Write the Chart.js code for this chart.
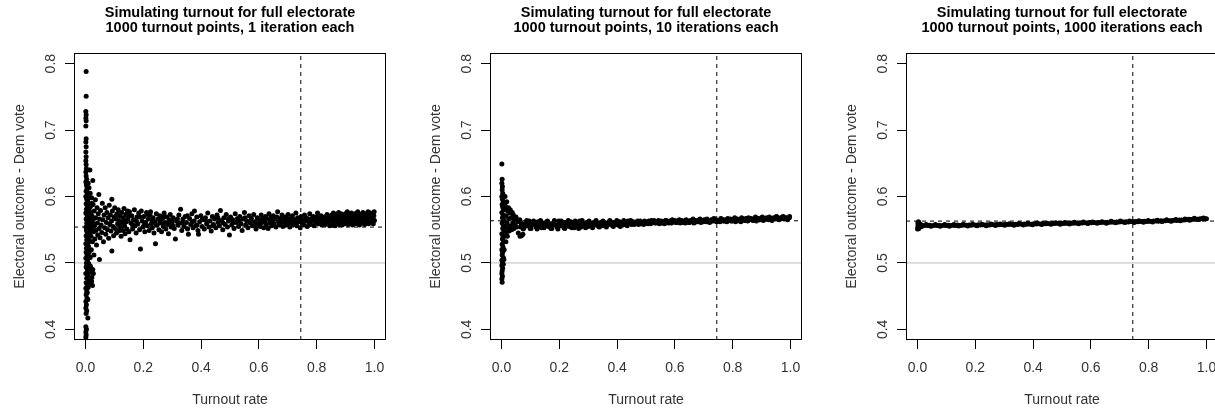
<!DOCTYPE html>
<html><head><meta charset="utf-8">
<script src="https://cdn.jsdelivr.net/npm/chart.js@4.4.1/dist/chart.umd.min.js"></script>
<style>
html,body{margin:0;padding:0;background:#fff;overflow:hidden;width:1215px;height:411px;}
.panel{position:absolute;top:0;width:416px;height:411px;}
canvas{display:block;}
</style></head><body>
<div class="panel" style="left:0"><canvas id="c1" width="416" height="411"></canvas></div>
<div class="panel" style="left:416px"><canvas id="c2" width="416" height="411"></canvas></div>
<div class="panel" style="left:832px"><canvas id="c3" width="416" height="411"></canvas></div>
<script>
const titleLine1 = "Simulating turnout for full electorate";
const subtitles = ["1000 turnout points, 1 iteration each", "1000 turnout points, 10 iterations each", "1000 turnout points, 1000 iterations each"];
const xLabel = "Turnout rate";
const yLabel = "Electoral outcome - Dem vote";
const xTicks = [0, 0.2, 0.4, 0.6, 0.8, 1.0];
const yTicks = [0.4, 0.5, 0.6, 0.7, 0.8];
const xLimits = [0, 1];
const yLimits = [0.4, 0.8];
const evenLine = 0.5;
const meanLines = [0.554, 0.5635, 0.563];
const turnoutLine = 0.745;

const panel1Points = [
[0.002,0.788],[0.002,0.751],[0.001,0.728],[0.002,0.723],[0.001,0.718],[0.002,0.714],[0.001,0.706],[0.002,0.687],[0.001,0.682],[0.002,0.675],[0.001,0.667],[0.002,0.660],[0.001,0.654],[0.002,0.648],[0.003,0.642],[0.001,0.637],[0.002,0.631],[0.004,0.626],[0.001,0.622],[0.003,0.617],[0.005,0.612],[0.002,0.608],[0.006,0.603],[0.001,0.600],[0.004,0.596],[0.008,0.592],[0.002,0.589],[0.006,0.585],[0.003,0.581],[0.010,0.578],[0.001,0.575],[0.005,0.572],[0.008,0.569],[0.002,0.566],[0.012,0.563],[0.004,0.560],[0.007,0.557],[0.001,0.554],[0.010,0.552],[0.003,0.549],[0.006,0.546],[0.013,0.544],[0.002,0.541],[0.008,0.538],[0.004,0.535],[0.011,0.532],[0.001,0.529],[0.006,0.526],[0.003,0.522],[0.009,0.519],[0.002,0.516],[0.005,0.512],[0.012,0.510],[0.001,0.507],[0.007,0.503],[0.003,0.500],[0.010,0.497],[0.002,0.494],[0.006,0.490],[0.015,0.487],[0.001,0.484],[0.008,0.481],[0.004,0.477],[0.012,0.474],[0.002,0.470],[0.006,0.466],[0.001,0.462],[0.004,0.457],[0.002,0.452],[0.005,0.447],[0.001,0.442],[0.003,0.437],[0.001,0.432],[0.004,0.428],[0.002,0.424],[0.008,0.417],[0.001,0.404],[0.003,0.400],[0.001,0.396],[0.002,0.392],[0.001,0.388],
[0.009,0.620],[0.012,0.613],[0.007,0.606],[0.014,0.598],[0.010,0.590],[0.013,0.582],[0.016,0.574],[0.011,0.566],[0.014,0.558],[0.017,0.550],[0.012,0.541],[0.015,0.533],[0.010,0.525],[0.013,0.517],[0.016,0.508],[0.011,0.499],[0.014,0.491],[0.009,0.483],[0.018,0.576],[0.019,0.556],[0.020,0.548],[0.022,0.590],[0.024,0.561],[0.013,0.470],[0.009,0.463],[0.017,0.495],[0.020,0.491],[0.006,0.455],[0.008,0.445],[0.025,0.490],[0.022,0.478],[0.027,0.484],[0.021,0.472],[0.024,0.466],
[0.015,0.640],[0.016,0.605],[0.017,0.585],[0.018,0.562],[0.019,0.540],[0.020,0.520],[0.021,0.598],[0.022,0.571],[0.023,0.553],[0.024,0.532],[0.025,0.624],[0.026,0.588],[0.027,0.566],[0.028,0.547],[0.029,0.512],[0.030,0.578],[0.031,0.556],[0.032,0.536],[0.034,0.595],[0.035,0.568],[0.036,0.549],[0.038,0.527],[0.040,0.583],[0.041,0.560],[0.042,0.542],[0.044,0.574],[0.046,0.603],[0.047,0.552],[0.048,0.505],[0.049,0.566],[0.050,0.538],
[0.052,0.579],[0.054,0.557],[0.056,0.546],[0.058,0.590],[0.060,0.565],[0.062,0.532],[0.064,0.572],[0.066,0.553],[0.068,0.583],[0.070,0.543],[0.072,0.561],[0.074,0.576],[0.076,0.550],[0.078,0.568],[0.080,0.537],[0.082,0.587],[0.084,0.558],[0.086,0.572],[0.088,0.548],[0.090,0.563],[0.091,0.596],[0.091,0.518],[0.093,0.578],[0.095,0.555],[0.097,0.541],[0.099,0.569],[0.101,0.583],[0.103,0.552],[0.105,0.566],[0.107,0.545],[0.109,0.574],[0.111,0.559],[0.113,0.580],[0.115,0.548],[0.117,0.564],[0.119,0.571],[0.121,0.553],[0.123,0.540],[0.125,0.576],[0.127,0.561],[0.129,0.549],[0.131,0.568],[0.133,0.582],[0.135,0.556],[0.137,0.544],[0.139,0.573],[0.141,0.562],[0.143,0.551],[0.145,0.578],[0.147,0.566],[0.150,0.547],[0.152,0.577],[0.154,0.535],
[0.157,0.560],[0.160,0.571],[0.163,0.551],[0.166,0.565],[0.169,0.580],[0.172,0.556],[0.175,0.545],[0.178,0.569],[0.181,0.559],[0.184,0.575],[0.187,0.550],[0.190,0.521],[0.193,0.578],[0.196,0.563],[0.199,0.554],[0.202,0.570],[0.205,0.547],[0.208,0.561],[0.211,0.576],[0.214,0.556],[0.217,0.566],[0.220,0.549],[0.223,0.572],[0.225,0.577],[0.228,0.559],[0.231,0.553],[0.234,0.568],[0.237,0.545],[0.240,0.562],[0.242,0.529],[0.245,0.574],[0.248,0.557],[0.251,0.566],[0.254,0.550],[0.257,0.571],[0.260,0.560],[0.263,0.547],[0.266,0.567],[0.269,0.555],[0.272,0.575],[0.275,0.561],[0.278,0.551],[0.281,0.569],[0.284,0.558],[0.287,0.544],[0.290,0.565],[0.293,0.573],[0.296,0.554],[0.299,0.562],
[0.303,0.568],[0.307,0.552],[0.311,0.536],[0.315,0.563],[0.319,0.557],[0.323,0.572],[0.327,0.560],[0.329,0.581],[0.333,0.549],[0.337,0.566],[0.341,0.555],[0.345,0.570],[0.349,0.561],[0.353,0.551],[0.356,0.543],[0.360,0.567],[0.364,0.558],[0.368,0.574],[0.372,0.553],[0.376,0.563],[0.377,0.578],[0.381,0.556],[0.385,0.569],[0.389,0.549],[0.391,0.543],[0.395,0.562],[0.399,0.571],[0.403,0.555],[0.407,0.565],[0.411,0.551],[0.415,0.568],[0.419,0.559],[0.423,0.575],[0.427,0.554],[0.431,0.563],[0.435,0.548],[0.439,0.570],[0.443,0.558],[0.447,0.566],[0.451,0.553],[0.455,0.572],[0.459,0.561],[0.463,0.556],[0.467,0.579],[0.471,0.564],[0.475,0.550],[0.479,0.568],[0.483,0.558],[0.487,0.573],[0.491,0.554],[0.495,0.563],[0.498,0.542],[0.502,0.569],[0.506,0.557],[0.510,0.565],[0.514,0.552],[0.518,0.574],[0.522,0.561],[0.526,0.567],[0.530,0.555],[0.534,0.570],[0.538,0.559],[0.542,0.549],[0.546,0.566],[0.550,0.576],[0.554,0.557],[0.558,0.563],[0.562,0.553],[0.566,0.571],[0.570,0.560],[0.574,0.567],[0.578,0.556],[0.582,0.573],[0.586,0.562],[0.590,0.551],[0.594,0.568],[0.598,0.559],
[0.106,0.571],[0.118,0.557],[0.134,0.563],[0.148,0.572],[0.162,0.558],[0.176,0.563],[0.189,0.569],[0.203,0.557],[0.216,0.573],[0.229,0.565],[0.244,0.558],[0.258,0.563],[0.271,0.569],[0.286,0.561],[0.301,0.557],[0.318,0.566],[0.334,0.560],[0.352,0.571],[0.369,0.562],[0.386,0.557],[0.404,0.566],[0.421,0.562],[0.440,0.556],[0.458,0.568],[0.476,0.560],[0.494,0.566],[0.512,0.561],[0.532,0.563],[0.552,0.568],[0.572,0.564],[0.592,0.557],
[0.602,0.565],[0.605,0.555],[0.608,0.572],[0.611,0.561],[0.614,0.567],[0.617,0.553],[0.620,0.563],[0.623,0.570],[0.626,0.558],[0.629,0.566],[0.632,0.552],[0.635,0.574],[0.638,0.561],[0.641,0.568],[0.644,0.556],[0.647,0.564],[0.650,0.571],[0.653,0.559],[0.656,0.566],[0.659,0.554],[0.662,0.569],[0.665,0.577],[0.668,0.562],[0.671,0.557],[0.674,0.567],[0.677,0.560],[0.680,0.572],[0.683,0.555],[0.686,0.565],[0.689,0.562],[0.692,0.569],[0.695,0.557],[0.698,0.566],[0.701,0.573],[0.704,0.560],[0.707,0.554],[0.710,0.567],[0.713,0.563],[0.716,0.571],[0.719,0.558],[0.722,0.565],[0.725,0.561],[0.728,0.575],[0.731,0.556],[0.734,0.568],[0.737,0.562],[0.740,0.566],[0.743,0.553],[0.746,0.570],[0.749,0.560],[0.752,0.565],[0.755,0.557],[0.758,0.572],[0.761,0.563],[0.764,0.568],[0.767,0.555],[0.770,0.566],[0.773,0.561],[0.776,0.574],[0.779,0.558],[0.782,0.567],[0.785,0.563],[0.788,0.570],[0.791,0.556],[0.794,0.565],[0.797,0.561],[0.800,0.569],[0.803,0.575],[0.806,0.559],[0.809,0.566],[0.812,0.562],[0.815,0.571],[0.818,0.557],[0.821,0.567],[0.824,0.563],[0.827,0.569],[0.830,0.558],[0.833,0.566],[0.836,0.573],[0.839,0.561],[0.842,0.567],[0.845,0.556],[0.848,0.570],
[0.851,0.563],[0.852,0.572],[0.854,0.557],[0.857,0.567],[0.858,0.575],[0.860,0.561],[0.863,0.569],[0.864,0.556],[0.866,0.573],[0.869,0.564],[0.870,0.559],[0.872,0.570],[0.875,0.566],[0.876,0.576],[0.878,0.558],[0.881,0.568],[0.882,0.562],[0.884,0.574],[0.887,0.565],[0.888,0.557],[0.890,0.571],[0.893,0.563],[0.894,0.568],[0.896,0.559],[0.899,0.574],[0.900,0.566],[0.902,0.561],[0.905,0.570],[0.906,0.577],[0.908,0.558],[0.911,0.567],[0.912,0.563],[0.914,0.572],[0.917,0.560],[0.918,0.568],[0.920,0.575],[0.923,0.564],[0.924,0.557],[0.926,0.570],[0.929,0.566],[0.930,0.561],[0.932,0.574],[0.935,0.568],[0.936,0.559],[0.938,0.572],[0.941,0.564],[0.942,0.577],[0.944,0.561],[0.947,0.569],[0.948,0.557],[0.950,0.573],[0.953,0.565],[0.954,0.560],[0.956,0.571],[0.959,0.567],[0.960,0.576],[0.962,0.562],[0.965,0.570],[0.966,0.558],[0.968,0.574],[0.971,0.565],[0.972,0.561],[0.974,0.572],[0.977,0.568],[0.978,0.577],[0.980,0.559],[0.983,0.570],[0.984,0.564],[0.986,0.575],[0.989,0.562],[0.990,0.568],[0.992,0.573],[0.995,0.566],[0.996,0.559],[0.998,0.571],[0.999,0.577],[1.000,0.564]
];

const panel2Points = [
[0.001,0.649],[0.002,0.626],[0.001,0.620],[0.003,0.615],[0.002,0.610],[0.004,0.605],[0.001,0.600],[0.003,0.596],[0.006,0.592],[0.002,0.588],[0.004,0.584],[0.007,0.580],[0.001,0.576],[0.005,0.572],[0.003,0.568],[0.008,0.564],[0.002,0.560],[0.006,0.556],[0.004,0.552],[0.009,0.548],[0.001,0.544],[0.005,0.540],[0.003,0.536],[0.007,0.532],[0.002,0.528],[0.005,0.524],[0.001,0.520],[0.004,0.516],[0.002,0.512],[0.006,0.508],[0.001,0.504],[0.003,0.500],[0.001,0.496],[0.004,0.492],[0.002,0.488],[0.001,0.484],[0.003,0.480],[0.001,0.476],[0.002,0.471],[0.010,0.590],[0.011,0.570],[0.012,0.555],[0.010,0.540],[0.009,0.520],[0.008,0.505],[0.006,0.498],
[0.012,0.600],[0.014,0.585],[0.015,0.532],[0.016,0.571],[0.017,0.546],[0.018,0.592],[0.019,0.560],[0.020,0.540],[0.021,0.578],[0.022,0.553],[0.024,0.583],[0.025,0.566],[0.026,0.548],[0.028,0.575],[0.030,0.580],[0.031,0.556],[0.033,0.568],[0.035,0.550],[0.037,0.576],[0.039,0.561],[0.041,0.572],[0.043,0.552],[0.045,0.566],[0.047,0.557],[0.050,0.569],[0.052,0.554],[0.055,0.563],[0.058,0.545],[0.064,0.540],[0.069,0.541],[0.074,0.543],
[0.060,0.562],[0.066,0.554],[0.072,0.559],[0.078,0.553],[0.084,0.561],[0.090,0.556],[0.096,0.563],[0.102,0.552],[0.108,0.558],[0.114,0.560],[0.120,0.554],[0.126,0.562],[0.132,0.557],[0.138,0.553],[0.144,0.560],[0.150,0.556],[0.156,0.562],[0.162,0.555],[0.168,0.559],[0.174,0.552],[0.180,0.561],[0.186,0.557],[0.192,0.554],[0.198,0.563],[0.204,0.556],[0.210,0.559],[0.216,0.553],[0.222,0.561],[0.228,0.557],[0.234,0.555],[0.240,0.562],[0.246,0.558],[0.252,0.553],[0.258,0.560],[0.264,0.556],[0.270,0.563],[0.276,0.554],[0.282,0.559],[0.288,0.557],[0.294,0.561],[0.300,0.555],
[0.306,0.560],[0.312,0.556],[0.318,0.561],[0.324,0.557],[0.330,0.559],[0.336,0.555],[0.342,0.561],[0.348,0.558],[0.354,0.556],[0.360,0.560],[0.366,0.557],[0.372,0.562],[0.378,0.558],[0.384,0.556],[0.390,0.561],[0.396,0.559],[0.402,0.557],[0.408,0.562],[0.414,0.559],[0.420,0.557],[0.426,0.561],[0.432,0.558],[0.438,0.563],[0.444,0.560],[0.450,0.558],[0.456,0.562],[0.462,0.559],[0.468,0.561],[0.474,0.558],[0.480,0.563],[0.486,0.560],[0.492,0.558],[0.498,0.562],[0.504,0.560],[0.510,0.563],[0.516,0.559],[0.522,0.561],[0.528,0.564],[0.534,0.560],[0.540,0.562],[0.546,0.559],[0.552,0.563],[0.558,0.561],[0.564,0.559],[0.570,0.564],[0.576,0.561],[0.582,0.563],[0.588,0.560],[0.594,0.562],[0.600,0.564],[0.606,0.561],[0.612,0.563],[0.618,0.560],[0.624,0.564],[0.630,0.562],[0.636,0.560],[0.642,0.563],[0.648,0.561],[0.654,0.564],[0.660,0.562],[0.666,0.560],[0.672,0.564],[0.678,0.562],[0.684,0.565],[0.690,0.561],[0.696,0.563],
[0.702,0.565],[0.708,0.562],[0.714,0.564],[0.720,0.561],[0.726,0.565],[0.732,0.563],[0.738,0.566],[0.744,0.562],[0.750,0.564],[0.756,0.562],[0.762,0.566],[0.768,0.563],[0.774,0.565],[0.780,0.562],[0.786,0.564],[0.792,0.566],[0.798,0.563],[0.804,0.565],[0.810,0.562],[0.816,0.566],[0.822,0.564],[0.828,0.562],[0.834,0.566],[0.840,0.564],[0.846,0.567],[0.852,0.563],[0.858,0.565],[0.864,0.567],[0.870,0.564],[0.876,0.566],[0.882,0.563],[0.888,0.567],[0.894,0.565],[0.900,0.568],[0.906,0.564],[0.912,0.566],[0.918,0.568],[0.924,0.565],[0.930,0.567],[0.936,0.564],[0.942,0.568],[0.948,0.566],[0.954,0.569],[0.960,0.565],[0.966,0.567],[0.972,0.569],[0.978,0.566],[0.984,0.568],[0.990,0.565],[0.996,0.568],
[0.063,0.565],[0.075,0.551],[0.087,0.564],[0.099,0.552],[0.111,0.563],[0.123,0.551],[0.135,0.564],[0.147,0.553],[0.159,0.563],[0.171,0.552],[0.183,0.564],[0.195,0.551],[0.207,0.563],[0.219,0.552],[0.231,0.564],[0.243,0.553],[0.255,0.563],[0.267,0.552],[0.279,0.564],[0.291,0.553],[0.303,0.563],[0.315,0.553],[0.327,0.564],[0.339,0.554],[0.351,0.563],[0.363,0.554],[0.375,0.564],[0.387,0.555],[0.399,0.564],[0.411,0.555],[0.423,0.564],[0.435,0.556],[0.447,0.564],
[0.459,0.558],[0.471,0.563],[0.483,0.559],[0.495,0.563],[0.507,0.559],[0.519,0.564],[0.531,0.560],[0.543,0.564],[0.555,0.560],[0.567,0.564],[0.579,0.560],[0.591,0.565],[0.603,0.561],[0.615,0.565],[0.627,0.561],[0.639,0.565],[0.651,0.561],[0.663,0.566],[0.675,0.562],[0.687,0.566],[0.699,0.562],[0.711,0.566],[0.723,0.562],[0.735,0.567],[0.747,0.563],[0.759,0.567],[0.771,0.563],[0.783,0.567],[0.795,0.563],[0.807,0.568],[0.819,0.564],[0.831,0.568],[0.843,0.564],[0.855,0.568],[0.867,0.565],[0.879,0.569],[0.891,0.565],[0.903,0.569],[0.915,0.566],[0.927,0.569],[0.939,0.566],[0.951,0.570],[0.963,0.567],[0.975,0.570],[0.987,0.567],[0.997,0.570],
[0.069,0.558],[0.081,0.557],[0.093,0.558],[0.105,0.557],[0.117,0.558],[0.129,0.557],[0.141,0.558],[0.153,0.558],[0.165,0.557],[0.177,0.558],[0.189,0.557],[0.201,0.558],[0.213,0.557],[0.225,0.558],[0.237,0.558],[0.249,0.557],[0.261,0.558],[0.273,0.558],[0.285,0.558],[0.297,0.558],[0.309,0.558],[0.321,0.559],[0.333,0.558],[0.345,0.559],[0.357,0.559],[0.369,0.559],[0.381,0.560],[0.393,0.559],[0.405,0.560],[0.417,0.560],[0.429,0.560],[0.441,0.561],[0.453,0.560],[0.465,0.561],[0.477,0.561],[0.489,0.561],[0.501,0.561],[0.513,0.561],[0.525,0.562],[0.537,0.561],[0.549,0.562],[0.561,0.562],[0.573,0.562],[0.585,0.562],[0.597,0.562],[0.609,0.563],[0.621,0.562],[0.633,0.563],[0.645,0.563],[0.657,0.563],[0.669,0.563],[0.681,0.563],[0.693,0.564],[0.705,0.563],[0.717,0.564],[0.729,0.564],[0.741,0.564],[0.753,0.564],[0.765,0.565],[0.777,0.564],[0.789,0.565],[0.801,0.565],[0.813,0.565],[0.825,0.565],[0.837,0.566],[0.849,0.566],[0.861,0.566],[0.873,0.566],[0.885,0.566],[0.897,0.567],[0.909,0.567],[0.921,0.567],[0.933,0.567],[0.945,0.567],[0.957,0.568],[0.969,0.568],[0.981,0.568],[0.993,0.568]
];

const panel3Points = [
[0.000,0.551],[0.001,0.554],[0.002,0.557],[0.001,0.560],[0.003,0.562],[0.004,0.553],[0.005,0.556],[0.006,0.559],[0.008,0.555],[0.003,0.5515],[0.005,0.5525],[0.007,0.5545],[0.009,0.5585],[0.011,0.5545],[0.004,0.5605],[0.012,0.557],
[0.010,0.5565],[0.018,0.5560],[0.026,0.5568],[0.034,0.5562],[0.042,0.5566],[0.050,0.5561],[0.058,0.5569],[0.066,0.5563],[0.074,0.5566],[0.082,0.5561],[0.090,0.5568],[0.098,0.5564],[0.106,0.5567],[0.114,0.5562],[0.122,0.5569],[0.130,0.5565],[0.138,0.5570],[0.146,0.5564],[0.154,0.5567],[0.162,0.5571],[0.170,0.5566],[0.178,0.5572],[0.186,0.5567],[0.194,0.5573],[0.202,0.5569],[0.210,0.5574],[0.218,0.5570],[0.226,0.5575],[0.234,0.5571],[0.242,0.5576],[0.250,0.5572],[0.258,0.5577],[0.266,0.5573],[0.274,0.5578],[0.282,0.5574],[0.290,0.5579],[0.298,0.5576],[0.306,0.5581],[0.314,0.5577],[0.322,0.5582],[0.330,0.5578],[0.338,0.5583],[0.346,0.5580],[0.354,0.5585],[0.362,0.5581],[0.370,0.5586],[0.378,0.5583],[0.386,0.5588],[0.394,0.5584],[0.402,0.5589],[0.410,0.5586],[0.418,0.5590],[0.426,0.5587],[0.434,0.5592],[0.442,0.5589],[0.450,0.5594],[0.458,0.5591],[0.466,0.5595],[0.474,0.5592],[0.482,0.5597],[0.490,0.5593],[0.498,0.5598],[0.506,0.5595],[0.514,0.5599],[0.522,0.5596],[0.530,0.5601],[0.538,0.5598],[0.546,0.5602],[0.554,0.5599],[0.562,0.5604],[0.570,0.5601],[0.578,0.5605],[0.586,0.5602],[0.594,0.5607],[0.602,0.5604],[0.610,0.5608],[0.618,0.5605],[0.626,0.5610],[0.634,0.5607],[0.642,0.5611],[0.650,0.5608],[0.658,0.5613],[0.666,0.5612],[0.674,0.5617],[0.682,0.5614],[0.690,0.5618],[0.698,0.5615],[0.706,0.5619],[0.714,0.5616],[0.722,0.5620],[0.730,0.5617],[0.738,0.5622],[0.746,0.5619],[0.754,0.5623],[0.762,0.5620],[0.770,0.5625],[0.778,0.5622],[0.786,0.5626],[0.794,0.5623],[0.802,0.5628],[0.810,0.5625],[0.818,0.5630],[0.826,0.5632],[0.834,0.5629],[0.842,0.5634],[0.850,0.5631],[0.858,0.5636],[0.866,0.5638],[0.874,0.5635],[0.882,0.5640],[0.890,0.5643],[0.898,0.5640],[0.906,0.5645],[0.914,0.5648],[0.922,0.5645],[0.930,0.5651],[0.938,0.5656],[0.946,0.5653],[0.954,0.5659],[0.962,0.5662],[0.970,0.5659],[0.978,0.5665],[0.986,0.5668],[0.994,0.5665],[1.000,0.5667],
[0.014,0.5553],[0.030,0.5577],[0.046,0.5552],[0.062,0.5578],[0.078,0.5553],[0.094,0.5578],[0.110,0.5554],[0.126,0.5579],[0.142,0.5555],[0.158,0.5581],[0.174,0.5557],[0.190,0.5582],[0.206,0.5559],[0.222,0.5584],[0.238,0.5561],[0.254,0.5586],[0.270,0.5563],[0.286,0.5588],[0.302,0.5566],[0.318,0.5591],[0.334,0.5569],[0.350,0.5594],[0.366,0.5572],[0.382,0.5597],[0.398,0.5575],[0.414,0.5600],[0.430,0.5578],[0.446,0.5603],[0.462,0.5581],[0.478,0.5606],[0.494,0.5584],[0.510,0.5609],[0.526,0.5587],[0.542,0.5612],[0.558,0.5590],[0.574,0.5615],[0.590,0.5593],[0.606,0.5618],[0.622,0.5596],[0.638,0.5621],[0.654,0.5599],[0.670,0.5627],[0.686,0.5604],[0.702,0.5630],[0.718,0.5607],[0.734,0.5633],[0.750,0.5610],[0.766,0.5636],[0.782,0.5613],[0.798,0.5639],[0.814,0.5617],[0.830,0.5644],[0.846,0.5622],[0.862,0.5650],[0.878,0.5627],[0.894,0.5655],[0.910,0.5634],[0.926,0.5662],[0.942,0.5643],[0.958,0.5671],[0.974,0.5653],[0.990,0.5678]
];

Chart.defaults.font.family = "'Liberation Sans', Arial, sans-serif";
const textColor = '#333';
function ext(lim) { const d = (lim[1] - lim[0]) * 0.04; return [lim[0] - d, lim[1] + d]; }
const xr = ext(xLimits), yr = ext(yLimits);

const boxPlugin = {
  id: 'rbox',
  afterDatasetsDraw(chart) {
    const a = chart.chartArea, ctx = chart.ctx;
    ctx.save();
    ctx.strokeStyle = '#000';
    ctx.lineWidth = 1;
    ctx.strokeRect(Math.round(a.left) + 0.5, Math.round(a.top) + 0.5, Math.round(a.right - a.left) - 1, Math.round(a.bottom - a.top) - 1);
    ctx.restore();
  }
};

function makeChart(id, pts, sub, meanY) {
  new Chart(document.getElementById(id), {
    type: 'scatter',
    data: { datasets: [
      { data: pts.map(p => ({x: p[0], y: p[1]})), pointRadius: 2.5, pointBackgroundColor: '#000', pointBorderWidth: 0, pointHoverRadius: 2.5, order: 0 },
      { type: 'line', data: [{x: xr[0], y: evenLine}, {x: xr[1], y: evenLine}], borderColor: '#bebebe', borderWidth: 1, pointRadius: 0, order: 3 },
      { type: 'line', data: [{x: xr[0], y: meanY}, {x: xr[1], y: meanY}], borderColor: '#000', borderWidth: 1, borderDash: [4, 4], pointRadius: 0, order: 2 },
      { type: 'line', data: [{x: turnoutLine, y: yr[0]}, {x: turnoutLine, y: yr[1]}], borderColor: '#000', borderWidth: 1, borderDash: [4, 4], pointRadius: 0, order: 1 }
    ]},
    options: {
      responsive: false, animation: false, devicePixelRatio: 1,
      layout: { padding: { left: 0, right: 30, top: 0, bottom: 0 } },
      plugins: {
        legend: { display: false }, tooltip: { enabled: false },
        title: { display: true, text: [titleLine1, sub], fullSize: false, color: '#000',
          font: { size: 14.5, weight: 'bold', lineHeight: 1.035 }, padding: { top: 5.6, bottom: 17.4 } }
      },
      scales: {
        x: { type: 'linear', position: 'bottom', min: xr[0], max: xr[1],
          afterBuildTicks: s => { s.ticks = xTicks.map(v => ({ value: v })); },
          afterFit: s => { s.height = 71; },
          ticks: { callback: v => v.toFixed(1), color: textColor, font: { size: 14 }, padding: 10.3, minRotation: 0, maxRotation: 0, autoSkip: false },
          grid: { drawOnChartArea: false, drawTicks: true, tickLength: 9, color: '#000' },
          border: { display: false },
          title: { display: true, text: xLabel, color: textColor, font: { size: 14 }, padding: { top: 0, bottom: 2.6 } } },
        y: { type: 'linear', position: 'left', min: yr[0], max: yr[1],
          afterBuildTicks: s => { s.ticks = yTicks.map(v => ({ value: v })); },
          afterFit: s => { s.width = 74; },
          ticks: { callback: v => v.toFixed(1), color: textColor, font: { size: 14 }, padding: 4.3, minRotation: 90, maxRotation: 90, crossAlign: 'center', autoSkip: false },
          grid: { drawOnChartArea: false, drawTicks: true, tickLength: 9, color: '#000' },
          border: { display: false },
          title: { display: true, text: yLabel, color: textColor, font: { size: 14 }, padding: { top: 11.6, bottom: 0 } } }
      }
    },
    plugins: [boxPlugin]
  });
}

makeChart('c1', panel1Points, subtitles[0], meanLines[0]);
makeChart('c2', panel2Points, subtitles[1], meanLines[1]);
makeChart('c3', panel3Points, subtitles[2], meanLines[2]);
</script>
</body></html>
